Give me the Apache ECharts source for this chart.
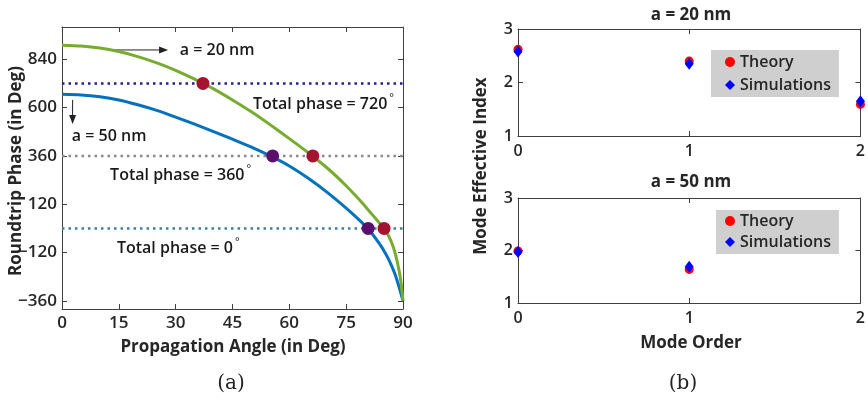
<!DOCTYPE html>
<html><head><meta charset="utf-8">
<script src="https://cdn.jsdelivr.net/npm/echarts@6/dist/echarts.min.js"></script>
<style>html,body{margin:0;padding:0;background:#fff}#c{width:868px;height:409px}</style>
</head><body><div id="c"></div><script>
// ---- data ----
const angles  = [0,5,10,15,20,25,30,35,40,45,50,55,60,65,70,75,78,80,82,84,85,86,87,88,89,89.5,90];
const phase20 = [910,906,896,878,853,822,785,741,693,638,579,514,446,376,300,212,152,110,66,22,0,-30,-70,-128,-212,-272,-360];
const phase50 = [666,663,654,638,614,586,553,518,481,443,404,360,310,249,179,101,50,13,-30,-82,-112,-146,-186,-233,-293,-326,-360];
const phaseTicks = [-360,-120,120,360,600,840];
const levels = [720,360,0];
const levelColors = ['#1f1f93','#8a8a8a','#3b7fa3'];
const cross20 = [[37.2,720],[66.2,360],[85,0]];
const cross50 = [[55.6,360],[80.8,0]];
const modes = [0,1,2];
const theory20 = [2.62,2.40,1.59];
const sim20    = [2.58,2.35,1.65];
const theory50 = [1.99,1.64];
const sim50    = [1.97,1.69];
const levelLabels = ['Total phase = 720','Total phase = 360','Total phase = 0'];
const levelLabelPos = [[50.4,618],[12.7,265],[14.5,-97]];

const FF = '"Open Sans", Roboto, "DejaVu Sans", sans-serif';
const AX = '#404040';
const chart = echarts.init(document.getElementById('c'), null, {renderer:'canvas'});

function axis(extra, showLabel, fs){
  return Object.assign({
    axisLine:{show:true,onZero:false,lineStyle:{color:AX,width:1}},
    axisTick:{show:true,inside:true,length:5,lineStyle:{color:AX,width:1}},
    splitLine:{show:false},
    axisLabel:{show:showLabel,color:'#262626',fontSize:fs||17,fontFamily:FF,fontWeight:600,
      formatter:(v)=>String(v).replace('-','\u2212')}
  }, extra);
}
function merge(a,b){
  const r = Object.assign({}, a);
  for (const k in b){ r[k] = (typeof b[k]==='object' && !Array.isArray(b[k]) && a[k]) ? Object.assign({}, a[k], b[k]) : b[k]; }
  return r;
}

const xAxes = [], yAxes = [];
xAxes.push(merge(axis({type:'value',gridIndex:0,min:0,max:90,interval:15,position:'bottom'},true),{axisLabel:{margin:6}}));
xAxes.push(axis({type:'value',gridIndex:0,min:0,max:90,interval:15,position:'top'},false));
yAxes.push(merge(axis({type:'value',gridIndex:0,min:-400,max:1000,position:'left'},true),
  {axisLabel:{customValues:phaseTicks,margin:5},axisTick:{customValues:phaseTicks}}));
yAxes.push(merge(axis({type:'value',gridIndex:0,min:-400,max:1000,position:'right'},false),
  {axisLabel:{show:false,customValues:phaseTicks},axisTick:{customValues:phaseTicks}}));
[1,2].forEach(g=>{
  xAxes.push(merge(axis({type:'value',gridIndex:g,min:0,max:2,interval:1,position:'bottom'},true,16),{axisLabel:{margin:7}}));
  xAxes.push(axis({type:'value',gridIndex:g,min:0,max:2,interval:1,position:'top'},false));
  yAxes.push(merge(axis({type:'value',gridIndex:g,min:1,max:3,interval:1,position:'left'},true,16),{axisLabel:{margin:5}}));
  yAxes.push(axis({type:'value',gridIndex:g,min:1,max:3,interval:1,position:'right'},false));
});

const series = [];
levels.forEach((lv,i)=>{
  series.push({type:'line',xAxisIndex:0,yAxisIndex:0,data:[[0,lv],[90,lv]],showSymbol:false,silent:true,
    lineStyle:{color:levelColors[i],width:2.5,type:[2.5,4]},z:2});
});
series.push({type:'line',xAxisIndex:0,yAxisIndex:0,data:angles.map((a,i)=>[a,phase50[i]]),showSymbol:false,smooth:0.2,
  lineStyle:{color:'#0072BD',width:3},z:3});
series.push({type:'line',xAxisIndex:0,yAxisIndex:0,data:angles.map((a,i)=>[a,phase20[i]]),showSymbol:false,smooth:0.2,
  lineStyle:{color:'#77AC30',width:3},z:3});
series.push({type:'scatter',xAxisIndex:0,yAxisIndex:0,data:cross20,symbol:'circle',symbolSize:13,itemStyle:{color:'#A2142F',opacity:1},z:5});
series.push({type:'scatter',xAxisIndex:0,yAxisIndex:0,data:cross50,symbol:'circle',symbolSize:13,itemStyle:{color:'#5A0F6C',opacity:1},z:5});

function modeSeries(g, th, sm){
  series.push({name:'Theory',type:'scatter',xAxisIndex:g*2,yAxisIndex:g*2,clip:false,
    data:th.map((v,i)=>[modes[i],v]),symbol:'circle',symbolSize:9,itemStyle:{color:'#ff0000',opacity:1},z:5});
  series.push({name:'Simulations',type:'scatter',xAxisIndex:g*2,yAxisIndex:g*2,clip:false,
    data:sm.map((v,i)=>[modes[i],v]),symbol:'diamond',symbolSize:[9,12],itemStyle:{color:'#0000ff',opacity:1},z:6});
}
modeSeries(1, theory20, sim20);
modeSeries(2, theory50, sim50);

function legend(left, top, gap, pad){
  return {left:left,top:top,orient:'vertical',selectedMode:false,
    data:[{name:'Theory',icon:'circle'},{name:'Simulations',icon:'diamond'}],
    itemWidth:10,itemHeight:10,itemGap:gap,itemTextGap:13,padding:pad,
    backgroundColor:'#cfcfcf',borderRadius:0,
    itemStyle:{opacity:1},
    textStyle:{fontSize:16,lineHeight:18,color:'#262626',fontFamily:FF,fontWeight:600}};
}

chart.setOption({
  animation:false,
  backgroundColor:'#ffffff',
  grid:[
    {left:62,top:27,width:341,height:282},
    {left:518,top:29,width:346,height:107},
    {left:518,top:198,width:346,height:105}
  ],
  xAxis:xAxes, yAxis:yAxes, series:series,
  legend:[legend(711,50,5,[3,8,3,14]), legend(716,210,3,[2,8,3,9])]
});

// ---- annotations positioned through the axes ----
const P = (pt)=>chart.convertToPixel({xAxisIndex:0,yAxisIndex:0}, pt);
function txt(x,y,t,o){
  return {type:'text',x:x,y:y,silent:true,z:20,
    style:Object.assign({text:t,fill:'#1a1a1a',fontSize:16,fontWeight:600,fontFamily:FF,verticalAlign:'middle',align:'left'},o||{})};
}
const g = [];
const a1 = P([13.7,886]), a2 = P([28.0,886]);
g.push({type:'line',shape:{x1:a1[0],y1:a1[1],x2:a2[0]-6,y2:a2[1]},style:{stroke:'#222',lineWidth:1}});
g.push({type:'polygon',shape:{points:[[a2[0],a2[1]],[a2[0]-9,a2[1]-3.5],[a2[0]-9,a2[1]+3.5]]},style:{fill:'#222'}});
const t1 = P([31.1,886]); g.push(txt(t1[0],t1[1],'a = 20 nm'));
const b1 = P([2.8,638]), b2 = P([2.8,518]);
g.push({type:'line',shape:{x1:b1[0],y1:b1[1],x2:b2[0],y2:b2[1]-6},style:{stroke:'#222',lineWidth:1}});
g.push({type:'polygon',shape:{points:[[b2[0],b2[1]],[b2[0]-3.5,b2[1]-9],[b2[0]+3.5,b2[1]-9]]},style:{fill:'#222'}});
const t2 = P([2.6,459]); g.push(txt(t2[0],t2[1],'a = 50 nm'));
levelLabels.forEach((s,i)=>{
  const p = P(levelLabelPos[i]);
  g.push({type:'text',x:p[0],y:p[1],silent:true,z:20,style:{
    text:s+'{d|°}',fill:'#1a1a1a',fontSize:16,fontWeight:600,fontFamily:FF,verticalAlign:'middle',align:'left',
    rich:{d:{fontSize:11,fontFamily:FF,fill:'#1a1a1a',verticalAlign:'top',padding:[0,0,12,2]}}}});
});
const B = {fontSize:17,fontWeight:'bold',fill:'#262626',align:'center'};
g.push(txt(233,347,'Propagation Angle (in Deg)',B));
g.push({type:'text',x:16,y:171,rotation:Math.PI/2,silent:true,style:Object.assign({text:'Roundtrip Phase (in Deg)',fontFamily:FF,verticalAlign:'middle'},B)});
g.push(txt(691,15,'a = 20 nm',B));
g.push(txt(691,182,'a = 50 nm',B));
g.push(txt(691,343,'Mode Order',B));
g.push({type:'text',x:481,y:166,rotation:Math.PI/2,silent:true,style:Object.assign({text:'Mode Effective Index',fontFamily:FF,verticalAlign:'middle'},B)});
const S = {fontSize:20,fontWeight:'normal',fontFamily:'"DejaVu Serif", "Liberation Serif", serif',fill:'#222',align:'center'};
g.push(txt(231,384,'(a)',S));
g.push(txt(683,384,'(b)',S));
chart.setOption({graphic:g});
</script></body></html>
